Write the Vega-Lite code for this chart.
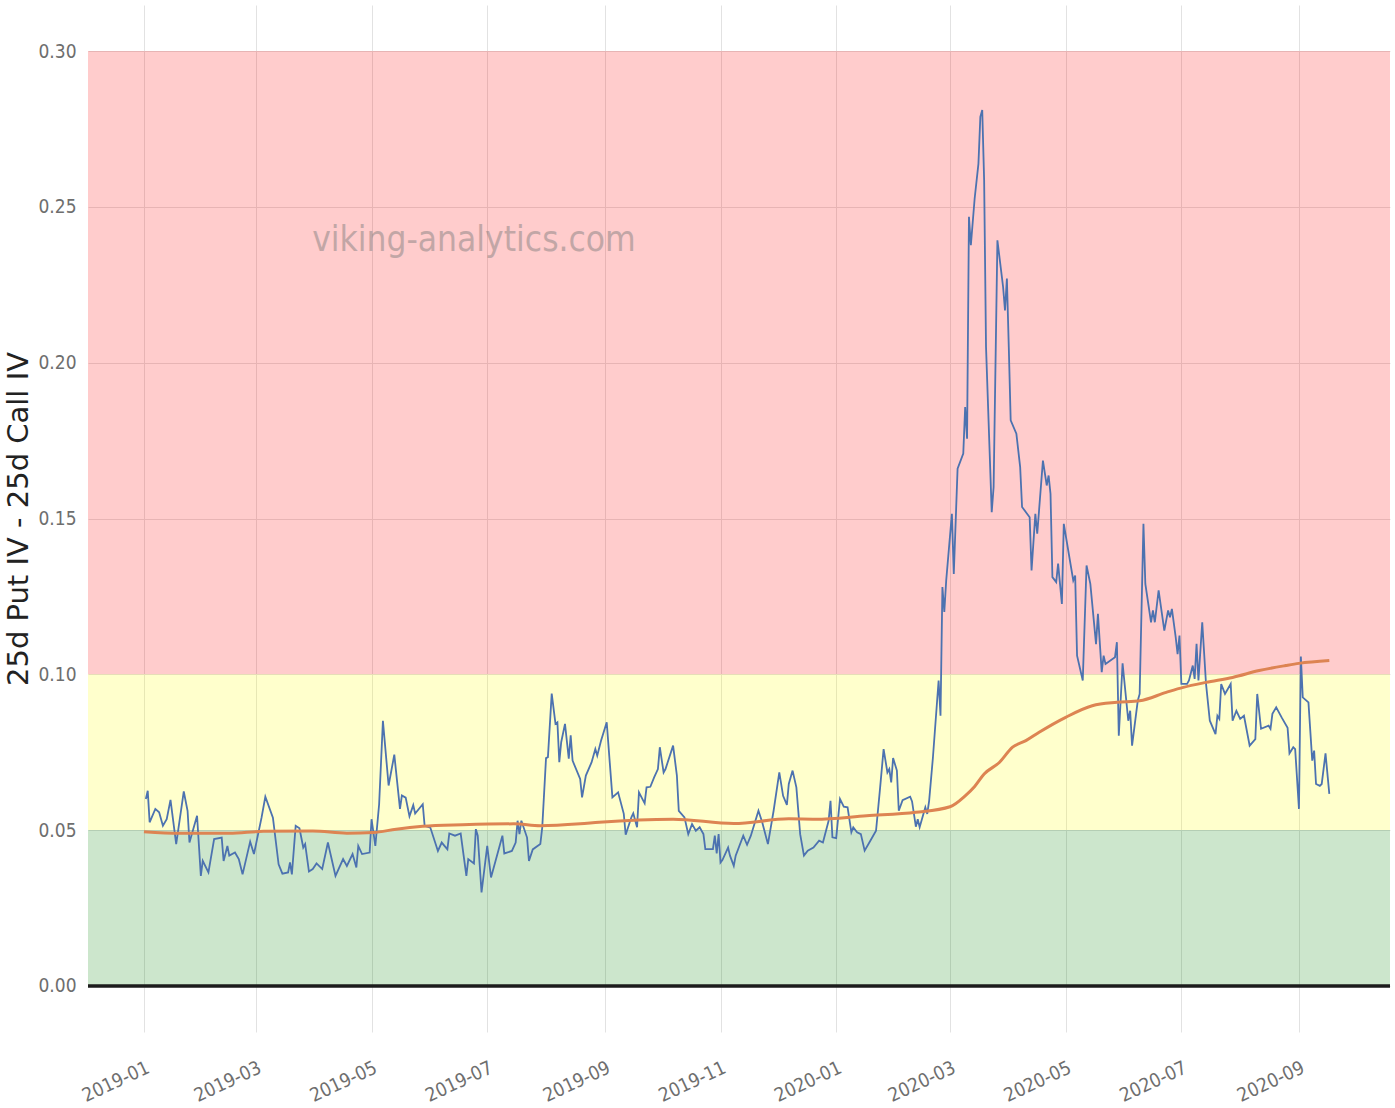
{
  "$schema": "https://vega.github.io/schema/vega-lite/v6.json",
  "autosize": {"type": "none"},
  "width": 1302,
  "height": 1027,
  "padding": {"left": 88, "top": 5, "right": 5, "bottom": 76},
  "background": "white",
  "config": {"view": {"stroke": null}},
  "datasets": {
    "bands": [
      {"zone": "high", "lo": 0.10, "hi": 0.30},
      {"zone": "mid", "lo": 0.05, "hi": 0.10},
      {"zone": "low", "lo": 0.0, "hi": 0.05}
    ],
    "skew": [
      {"date": "2019-01-02", "value": 0.0600},
      {"date": "2019-01-03", "value": 0.0626},
      {"date": "2019-01-04", "value": 0.0525},
      {"date": "2019-01-07", "value": 0.0568},
      {"date": "2019-01-09", "value": 0.0557},
      {"date": "2019-01-11", "value": 0.0514},
      {"date": "2019-01-13", "value": 0.0535},
      {"date": "2019-01-15", "value": 0.0597},
      {"date": "2019-01-18", "value": 0.0455},
      {"date": "2019-01-22", "value": 0.0624},
      {"date": "2019-01-24", "value": 0.0562},
      {"date": "2019-01-25", "value": 0.0460},
      {"date": "2019-01-29", "value": 0.0546},
      {"date": "2019-01-31", "value": 0.0353},
      {"date": "2019-02-01", "value": 0.0401},
      {"date": "2019-02-04", "value": 0.0364},
      {"date": "2019-02-07", "value": 0.0471},
      {"date": "2019-02-11", "value": 0.0476},
      {"date": "2019-02-12", "value": 0.0401},
      {"date": "2019-02-14", "value": 0.0449},
      {"date": "2019-02-15", "value": 0.0418},
      {"date": "2019-02-18", "value": 0.0428},
      {"date": "2019-02-20", "value": 0.0407},
      {"date": "2019-02-22", "value": 0.0358},
      {"date": "2019-02-26", "value": 0.0463},
      {"date": "2019-02-28", "value": 0.0423},
      {"date": "2019-03-04", "value": 0.0540},
      {"date": "2019-03-06", "value": 0.0607},
      {"date": "2019-03-10", "value": 0.0540},
      {"date": "2019-03-13", "value": 0.0390},
      {"date": "2019-03-15", "value": 0.0360},
      {"date": "2019-03-18", "value": 0.0364},
      {"date": "2019-03-19", "value": 0.0396},
      {"date": "2019-03-20", "value": 0.0358},
      {"date": "2019-03-22", "value": 0.0514},
      {"date": "2019-03-24", "value": 0.0506},
      {"date": "2019-03-26", "value": 0.0444},
      {"date": "2019-03-27", "value": 0.0455},
      {"date": "2019-03-29", "value": 0.0367},
      {"date": "2019-03-31", "value": 0.0375},
      {"date": "2019-04-02", "value": 0.0393},
      {"date": "2019-04-05", "value": 0.0375},
      {"date": "2019-04-08", "value": 0.0460},
      {"date": "2019-04-09", "value": 0.0433},
      {"date": "2019-04-12", "value": 0.0353},
      {"date": "2019-04-16", "value": 0.0407},
      {"date": "2019-04-18", "value": 0.0385},
      {"date": "2019-04-21", "value": 0.0423},
      {"date": "2019-04-23", "value": 0.0380},
      {"date": "2019-04-24", "value": 0.0449},
      {"date": "2019-04-26", "value": 0.0423},
      {"date": "2019-04-30", "value": 0.0428},
      {"date": "2019-05-01", "value": 0.0535},
      {"date": "2019-05-03", "value": 0.0449},
      {"date": "2019-05-05", "value": 0.0583},
      {"date": "2019-05-07", "value": 0.0851},
      {"date": "2019-05-10", "value": 0.0643},
      {"date": "2019-05-13", "value": 0.0742},
      {"date": "2019-05-16", "value": 0.0568},
      {"date": "2019-05-17", "value": 0.0611},
      {"date": "2019-05-19", "value": 0.0604},
      {"date": "2019-05-21", "value": 0.0544},
      {"date": "2019-05-23", "value": 0.0580},
      {"date": "2019-05-24", "value": 0.0553},
      {"date": "2019-05-28", "value": 0.0583},
      {"date": "2019-05-29", "value": 0.0514},
      {"date": "2019-06-01", "value": 0.0508},
      {"date": "2019-06-05", "value": 0.0433},
      {"date": "2019-06-07", "value": 0.0460},
      {"date": "2019-06-10", "value": 0.0438},
      {"date": "2019-06-11", "value": 0.0489},
      {"date": "2019-06-14", "value": 0.0482},
      {"date": "2019-06-17", "value": 0.0489},
      {"date": "2019-06-20", "value": 0.0353},
      {"date": "2019-06-21", "value": 0.0407},
      {"date": "2019-06-24", "value": 0.0393},
      {"date": "2019-06-25", "value": 0.0503},
      {"date": "2019-06-26", "value": 0.0482},
      {"date": "2019-06-28", "value": 0.0300},
      {"date": "2019-07-01", "value": 0.0449},
      {"date": "2019-07-03", "value": 0.0348},
      {"date": "2019-07-09", "value": 0.0482},
      {"date": "2019-07-10", "value": 0.0425},
      {"date": "2019-07-14", "value": 0.0433},
      {"date": "2019-07-16", "value": 0.0460},
      {"date": "2019-07-17", "value": 0.0530},
      {"date": "2019-07-18", "value": 0.0487},
      {"date": "2019-07-19", "value": 0.0530},
      {"date": "2019-07-22", "value": 0.0476},
      {"date": "2019-07-23", "value": 0.0401},
      {"date": "2019-07-25", "value": 0.0438},
      {"date": "2019-07-29", "value": 0.0455},
      {"date": "2019-07-30", "value": 0.0508},
      {"date": "2019-08-01", "value": 0.0731},
      {"date": "2019-08-02", "value": 0.0734},
      {"date": "2019-08-04", "value": 0.0938},
      {"date": "2019-08-06", "value": 0.0841},
      {"date": "2019-08-07", "value": 0.0846},
      {"date": "2019-08-08", "value": 0.0718},
      {"date": "2019-08-09", "value": 0.0782},
      {"date": "2019-08-11", "value": 0.0841},
      {"date": "2019-08-13", "value": 0.0729},
      {"date": "2019-08-14", "value": 0.0804},
      {"date": "2019-08-15", "value": 0.0723},
      {"date": "2019-08-19", "value": 0.0664},
      {"date": "2019-08-20", "value": 0.0605},
      {"date": "2019-08-22", "value": 0.0675},
      {"date": "2019-08-25", "value": 0.0717},
      {"date": "2019-08-27", "value": 0.0760},
      {"date": "2019-08-28", "value": 0.0739},
      {"date": "2019-08-30", "value": 0.0787},
      {"date": "2019-09-02", "value": 0.0846},
      {"date": "2019-09-05", "value": 0.0605},
      {"date": "2019-09-08", "value": 0.0621},
      {"date": "2019-09-11", "value": 0.0552},
      {"date": "2019-09-12", "value": 0.0485},
      {"date": "2019-09-15", "value": 0.0541},
      {"date": "2019-09-16", "value": 0.0554},
      {"date": "2019-09-18", "value": 0.0509},
      {"date": "2019-09-19", "value": 0.0621},
      {"date": "2019-09-22", "value": 0.0586},
      {"date": "2019-09-23", "value": 0.0637},
      {"date": "2019-09-25", "value": 0.0639},
      {"date": "2019-09-27", "value": 0.0669},
      {"date": "2019-09-29", "value": 0.0696},
      {"date": "2019-09-30", "value": 0.0766},
      {"date": "2019-10-02", "value": 0.0685},
      {"date": "2019-10-03", "value": 0.0696},
      {"date": "2019-10-07", "value": 0.0771},
      {"date": "2019-10-09", "value": 0.0675},
      {"date": "2019-10-10", "value": 0.0562},
      {"date": "2019-10-13", "value": 0.0541},
      {"date": "2019-10-15", "value": 0.0487},
      {"date": "2019-10-17", "value": 0.0519},
      {"date": "2019-10-19", "value": 0.0498},
      {"date": "2019-10-21", "value": 0.0509},
      {"date": "2019-10-23", "value": 0.0487},
      {"date": "2019-10-24", "value": 0.0439},
      {"date": "2019-10-28", "value": 0.0439},
      {"date": "2019-10-29", "value": 0.0482},
      {"date": "2019-10-30", "value": 0.0425},
      {"date": "2019-10-31", "value": 0.0487},
      {"date": "2019-11-01", "value": 0.0396},
      {"date": "2019-11-02", "value": 0.0404},
      {"date": "2019-11-05", "value": 0.0444},
      {"date": "2019-11-06", "value": 0.0418},
      {"date": "2019-11-08", "value": 0.0385},
      {"date": "2019-11-09", "value": 0.0418},
      {"date": "2019-11-13", "value": 0.0482},
      {"date": "2019-11-15", "value": 0.0453},
      {"date": "2019-11-17", "value": 0.0482},
      {"date": "2019-11-21", "value": 0.0562},
      {"date": "2019-11-23", "value": 0.0525},
      {"date": "2019-11-26", "value": 0.0455},
      {"date": "2019-11-29", "value": 0.0562},
      {"date": "2019-12-02", "value": 0.0685},
      {"date": "2019-12-04", "value": 0.0610},
      {"date": "2019-12-06", "value": 0.0581},
      {"date": "2019-12-07", "value": 0.0648},
      {"date": "2019-12-09", "value": 0.0691},
      {"date": "2019-12-11", "value": 0.0637},
      {"date": "2019-12-13", "value": 0.0487},
      {"date": "2019-12-15", "value": 0.0418},
      {"date": "2019-12-17", "value": 0.0434},
      {"date": "2019-12-20", "value": 0.0444},
      {"date": "2019-12-23", "value": 0.0466},
      {"date": "2019-12-25", "value": 0.0460},
      {"date": "2019-12-28", "value": 0.0530},
      {"date": "2019-12-29", "value": 0.0594},
      {"date": "2019-12-30", "value": 0.0477},
      {"date": "2020-01-01", "value": 0.0474},
      {"date": "2020-01-03", "value": 0.0600},
      {"date": "2020-01-05", "value": 0.0575},
      {"date": "2020-01-07", "value": 0.0573},
      {"date": "2020-01-09", "value": 0.0493},
      {"date": "2020-01-10", "value": 0.0509},
      {"date": "2020-01-12", "value": 0.0493},
      {"date": "2020-01-14", "value": 0.0487},
      {"date": "2020-01-16", "value": 0.0434},
      {"date": "2020-01-19", "value": 0.0466},
      {"date": "2020-01-22", "value": 0.0498},
      {"date": "2020-01-24", "value": 0.0626},
      {"date": "2020-01-26", "value": 0.0760},
      {"date": "2020-01-28", "value": 0.0685},
      {"date": "2020-01-29", "value": 0.0696},
      {"date": "2020-01-30", "value": 0.0653},
      {"date": "2020-01-31", "value": 0.0731},
      {"date": "2020-02-02", "value": 0.0691},
      {"date": "2020-02-03", "value": 0.0562},
      {"date": "2020-02-05", "value": 0.0596},
      {"date": "2020-02-09", "value": 0.0607},
      {"date": "2020-02-10", "value": 0.0592},
      {"date": "2020-02-12", "value": 0.0511},
      {"date": "2020-02-13", "value": 0.0535},
      {"date": "2020-02-14", "value": 0.0509},
      {"date": "2020-02-17", "value": 0.0573},
      {"date": "2020-02-18", "value": 0.0552},
      {"date": "2020-02-19", "value": 0.0594},
      {"date": "2020-02-21", "value": 0.0733},
      {"date": "2020-02-24", "value": 0.0980},
      {"date": "2020-02-25", "value": 0.0867},
      {"date": "2020-02-26", "value": 0.1280},
      {"date": "2020-02-27", "value": 0.1200},
      {"date": "2020-02-28", "value": 0.1301},
      {"date": "2020-03-02", "value": 0.1515},
      {"date": "2020-03-03", "value": 0.1322},
      {"date": "2020-03-05", "value": 0.1660},
      {"date": "2020-03-08", "value": 0.1708},
      {"date": "2020-03-09", "value": 0.1858},
      {"date": "2020-03-10", "value": 0.1756},
      {"date": "2020-03-11", "value": 0.2468},
      {"date": "2020-03-12", "value": 0.2377},
      {"date": "2020-03-14", "value": 0.2527},
      {"date": "2020-03-16", "value": 0.2639},
      {"date": "2020-03-17", "value": 0.2789},
      {"date": "2020-03-18", "value": 0.2811},
      {"date": "2020-03-19", "value": 0.2586},
      {"date": "2020-03-20", "value": 0.2050},
      {"date": "2020-03-23", "value": 0.1520},
      {"date": "2020-03-24", "value": 0.1601},
      {"date": "2020-03-26", "value": 0.2393},
      {"date": "2020-03-29", "value": 0.2243},
      {"date": "2020-03-30", "value": 0.2168},
      {"date": "2020-03-31", "value": 0.2270},
      {"date": "2020-04-01", "value": 0.2050},
      {"date": "2020-04-02", "value": 0.1815},
      {"date": "2020-04-05", "value": 0.1772},
      {"date": "2020-04-07", "value": 0.1665},
      {"date": "2020-04-08", "value": 0.1537},
      {"date": "2020-04-12", "value": 0.1504},
      {"date": "2020-04-13", "value": 0.1333},
      {"date": "2020-04-15", "value": 0.1515},
      {"date": "2020-04-16", "value": 0.1451},
      {"date": "2020-04-19", "value": 0.1686},
      {"date": "2020-04-21", "value": 0.1606},
      {"date": "2020-04-22", "value": 0.1638},
      {"date": "2020-04-23", "value": 0.1579},
      {"date": "2020-04-24", "value": 0.1312},
      {"date": "2020-04-26", "value": 0.1296},
      {"date": "2020-04-27", "value": 0.1355},
      {"date": "2020-04-29", "value": 0.1226},
      {"date": "2020-04-30", "value": 0.1483},
      {"date": "2020-05-05", "value": 0.1301},
      {"date": "2020-05-06", "value": 0.1317},
      {"date": "2020-05-07", "value": 0.1060},
      {"date": "2020-05-10", "value": 0.0980},
      {"date": "2020-05-12", "value": 0.1349},
      {"date": "2020-05-14", "value": 0.1290},
      {"date": "2020-05-17", "value": 0.1097},
      {"date": "2020-05-18", "value": 0.1194},
      {"date": "2020-05-20", "value": 0.1007},
      {"date": "2020-05-21", "value": 0.1060},
      {"date": "2020-05-22", "value": 0.1033},
      {"date": "2020-05-27", "value": 0.1055},
      {"date": "2020-05-28", "value": 0.1103},
      {"date": "2020-05-29", "value": 0.0803},
      {"date": "2020-05-31", "value": 0.1035},
      {"date": "2020-06-03", "value": 0.0851},
      {"date": "2020-06-04", "value": 0.0883},
      {"date": "2020-06-05", "value": 0.0771},
      {"date": "2020-06-08", "value": 0.0915},
      {"date": "2020-06-09", "value": 0.0937},
      {"date": "2020-06-11", "value": 0.1483},
      {"date": "2020-06-12", "value": 0.1290},
      {"date": "2020-06-15", "value": 0.1167},
      {"date": "2020-06-16", "value": 0.1205},
      {"date": "2020-06-17", "value": 0.1167},
      {"date": "2020-06-19", "value": 0.1269},
      {"date": "2020-06-22", "value": 0.1140},
      {"date": "2020-06-24", "value": 0.1205},
      {"date": "2020-06-25", "value": 0.1183},
      {"date": "2020-06-26", "value": 0.1210},
      {"date": "2020-06-28", "value": 0.1119},
      {"date": "2020-06-29", "value": 0.1065},
      {"date": "2020-06-30", "value": 0.1124},
      {"date": "2020-07-01", "value": 0.0969},
      {"date": "2020-07-04", "value": 0.0969},
      {"date": "2020-07-05", "value": 0.0980},
      {"date": "2020-07-07", "value": 0.1028},
      {"date": "2020-07-08", "value": 0.0985},
      {"date": "2020-07-09", "value": 0.1098},
      {"date": "2020-07-10", "value": 0.0980},
      {"date": "2020-07-12", "value": 0.1167},
      {"date": "2020-07-14", "value": 0.0969},
      {"date": "2020-07-16", "value": 0.0851},
      {"date": "2020-07-19", "value": 0.0808},
      {"date": "2020-07-20", "value": 0.0867},
      {"date": "2020-07-21", "value": 0.0857},
      {"date": "2020-07-22", "value": 0.0969},
      {"date": "2020-07-24", "value": 0.0937},
      {"date": "2020-07-27", "value": 0.0969},
      {"date": "2020-07-28", "value": 0.0851},
      {"date": "2020-07-30", "value": 0.0883},
      {"date": "2020-08-01", "value": 0.0857},
      {"date": "2020-08-03", "value": 0.0867},
      {"date": "2020-08-06", "value": 0.0771},
      {"date": "2020-08-09", "value": 0.0792},
      {"date": "2020-08-10", "value": 0.0937},
      {"date": "2020-08-12", "value": 0.0825},
      {"date": "2020-08-16", "value": 0.0835},
      {"date": "2020-08-17", "value": 0.0825},
      {"date": "2020-08-18", "value": 0.0873},
      {"date": "2020-08-20", "value": 0.0894},
      {"date": "2020-08-23", "value": 0.0860},
      {"date": "2020-08-26", "value": 0.0828},
      {"date": "2020-08-27", "value": 0.0746},
      {"date": "2020-08-29", "value": 0.0766},
      {"date": "2020-08-30", "value": 0.0760},
      {"date": "2020-09-01", "value": 0.0568},
      {"date": "2020-09-02", "value": 0.1057},
      {"date": "2020-09-03", "value": 0.0926},
      {"date": "2020-09-06", "value": 0.0910},
      {"date": "2020-09-08", "value": 0.0723},
      {"date": "2020-09-09", "value": 0.0755},
      {"date": "2020-09-10", "value": 0.0648},
      {"date": "2020-09-12", "value": 0.0642},
      {"date": "2020-09-13", "value": 0.0648},
      {"date": "2020-09-15", "value": 0.0746},
      {"date": "2020-09-17", "value": 0.0616}
    ],
    "ma": [
      {"date": "2019-01-01", "value": 0.0495},
      {"date": "2019-01-20", "value": 0.0490},
      {"date": "2019-02-15", "value": 0.0490},
      {"date": "2019-03-05", "value": 0.0496},
      {"date": "2019-03-31", "value": 0.0497},
      {"date": "2019-04-18", "value": 0.0490},
      {"date": "2019-05-02", "value": 0.0492},
      {"date": "2019-05-14", "value": 0.0503},
      {"date": "2019-05-28", "value": 0.0512},
      {"date": "2019-06-18", "value": 0.0517},
      {"date": "2019-07-15", "value": 0.0520},
      {"date": "2019-07-29", "value": 0.0514},
      {"date": "2019-08-19", "value": 0.0520},
      {"date": "2019-08-29", "value": 0.0525},
      {"date": "2019-10-07", "value": 0.0535},
      {"date": "2019-11-08", "value": 0.0521},
      {"date": "2019-12-07", "value": 0.0536},
      {"date": "2019-12-21", "value": 0.0535},
      {"date": "2020-01-17", "value": 0.0546},
      {"date": "2020-02-12", "value": 0.0557},
      {"date": "2020-03-01", "value": 0.0575},
      {"date": "2020-03-09", "value": 0.0610},
      {"date": "2020-03-14", "value": 0.0640},
      {"date": "2020-03-19", "value": 0.0680},
      {"date": "2020-03-27", "value": 0.0717},
      {"date": "2020-04-03", "value": 0.0766},
      {"date": "2020-04-10", "value": 0.0787},
      {"date": "2020-04-17", "value": 0.0814},
      {"date": "2020-05-01", "value": 0.0862},
      {"date": "2020-05-15", "value": 0.0899},
      {"date": "2020-05-28", "value": 0.0910},
      {"date": "2020-06-09", "value": 0.0915},
      {"date": "2020-06-23", "value": 0.0942},
      {"date": "2020-07-02", "value": 0.0958},
      {"date": "2020-07-14", "value": 0.0974},
      {"date": "2020-07-28", "value": 0.0990},
      {"date": "2020-08-11", "value": 0.1012},
      {"date": "2020-08-25", "value": 0.1028},
      {"date": "2020-09-01", "value": 0.1035},
      {"date": "2020-09-17", "value": 0.1044}
    ]
  },
  "layer": [
    {
      "data": {"name": "bands"},
      "mark": {"type": "rect", "opacity": 0.2},
      "encoding": {
        "y": {
          "field": "lo", "type": "quantitative",
          "scale": {"domain": [-0.0148, 0.3148], "nice": false, "zero": false},
          "axis": {
            "values": [0, 0.05, 0.1, 0.15, 0.2, 0.25, 0.3],
            "format": ".2f",
            "labelFont": "DejaVu Sans Condensed, Liberation Sans, sans-serif",
            "labelFontSize": 19,
            "labelColor": "#6e6e6e",
            "labelPadding": 12,
            "ticks": false,
            "domain": false,
            "grid": true,
            "gridColor": "#e2e2e2",
            "gridWidth": 1,
            "title": "25d Put IV - 25d Call IV",
            "titleFont": "DejaVu Sans, sans-serif",
            "titleFontSize": 29,
            "titleFontWeight": "normal",
            "titleColor": "#222222",
            "titlePadding": 4
          }
        },
        "y2": {"field": "hi"},
        "color": {
          "field": "zone", "type": "nominal",
          "scale": {"domain": ["high", "mid", "low"], "range": ["#ff0000", "#ffff00", "#008000"]},
          "legend": null
        }
      }
    },
    {
      "data": {"values": [{"level": 0}]},
      "mark": {"type": "rule", "color": "#1c1c1c", "strokeWidth": 3.5},
      "encoding": {"y": {"field": "level", "type": "quantitative"}}
    },
    {
      "data": {"name": "skew"},
      "mark": {"type": "line", "color": "#4c72b0", "strokeWidth": 1.8},
      "encoding": {
        "x": {
          "field": "date", "type": "temporal",
          "scale": {
            "type": "utc",
            "domain": [
              {"year": 2018, "month": 12, "date": 2, "hours": 12, "utc": true},
              {"year": 2020, "month": 10, "date": 19, "utc": true}
            ],
            "nice": false
          },
          "axis": {
            "values": [
              {"year": 2019, "month": 1, "date": 1, "utc": true},
              {"year": 2019, "month": 3, "date": 1, "utc": true},
              {"year": 2019, "month": 5, "date": 1, "utc": true},
              {"year": 2019, "month": 7, "date": 1, "utc": true},
              {"year": 2019, "month": 9, "date": 1, "utc": true},
              {"year": 2019, "month": 11, "date": 1, "utc": true},
              {"year": 2020, "month": 1, "date": 1, "utc": true},
              {"year": 2020, "month": 3, "date": 1, "utc": true},
              {"year": 2020, "month": 5, "date": 1, "utc": true},
              {"year": 2020, "month": 7, "date": 1, "utc": true},
              {"year": 2020, "month": 9, "date": 1, "utc": true}
            ],
            "labelExpr": "utcFormat(datum.value, '%Y-%m')",
            "labelAngle": -25,
            "labelAlign": "right",
            "labelBaseline": "top",
            "labelFont": "DejaVu Sans Condensed, Liberation Sans, sans-serif",
            "labelFontSize": 19,
            "labelColor": "#6e6e6e",
            "labelPadding": 26,
            "ticks": false,
            "domain": false,
            "grid": true,
            "gridColor": "#e2e2e2",
            "gridWidth": 1,
            "title": null
          }
        },
        "y": {"field": "value", "type": "quantitative"}
      }
    },
    {
      "data": {"name": "ma"},
      "mark": {"type": "line", "color": "#dd8452", "strokeWidth": 3, "interpolate": "monotone"},
      "encoding": {
        "x": {"field": "date", "type": "temporal"},
        "y": {"field": "value", "type": "quantitative"}
      }
    },
    {
      "data": {"values": [{"label": "viking-analytics.com"}]},
      "mark": {"type": "text", "font": "DejaVu Sans Condensed, Liberation Sans, sans-serif", "fontSize": 35, "color": "#7a7a7a", "opacity": 0.45, "align": "center", "baseline": "alphabetic"},
      "encoding": {
        "x": {"datum": {"year": 2019, "month": 6, "date": 24, "utc": true}, "type": "temporal"},
        "y": {"datum": 0.236, "type": "quantitative"},
        "text": {"field": "label"}
      }
    }
  ]
}
